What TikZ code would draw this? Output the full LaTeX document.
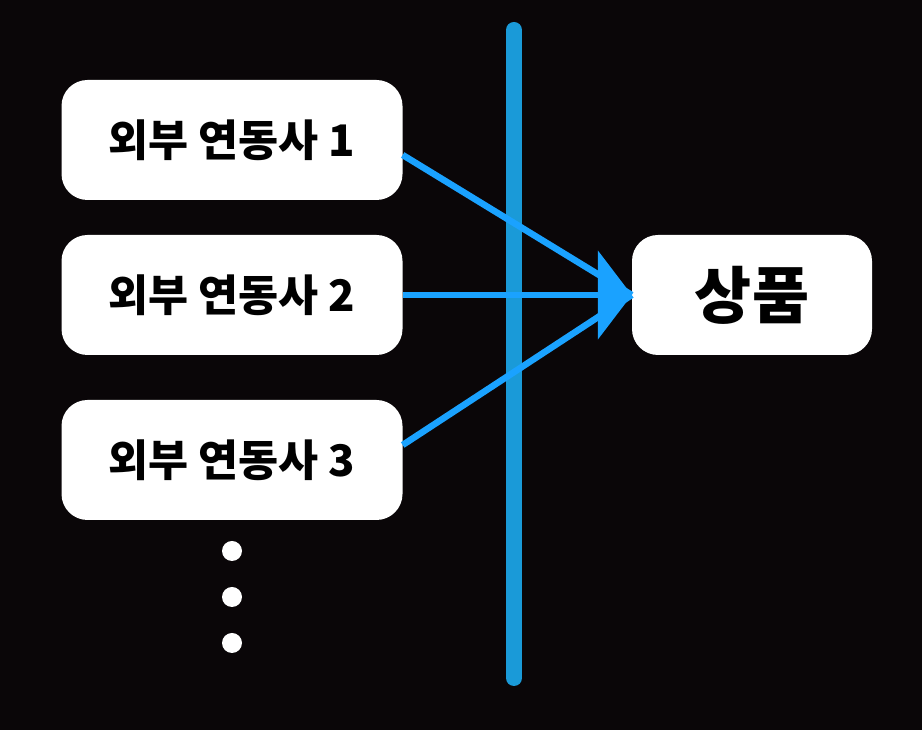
\documentclass[tikz,border=0pt]{standalone}
\usepackage{fontspec}
\setmainfont{Noto Sans CJK KR}
\usetikzlibrary{arrows.meta}
\definecolor{bg}{HTML}{0A0608}
\definecolor{wallblue}{HTML}{1A9AD8}
\definecolor{arrblue}{HTML}{1AA2FF}
\tikzset{
  box/.style={fill=white, rounded corners=26pt, minimum height=120pt, inner sep=0pt, text=black, font=\bfseries\fontsize{43.5}{44}\selectfont},
  leftbox/.style={box, minimum width=341pt},
  targetbox/.style={box, minimum width=240pt, font=\bfseries\fontsize{62}{62}\selectfont},
  link/.style={draw=arrblue, line width=6.5pt},
  dot/.style={circle, fill=white, minimum size=20pt, inner sep=0pt},
}
\begin{document}
\begin{tikzpicture}[x=1pt,y=1pt]
\fill[bg] (0,0) rectangle (922,730);
\useasboundingbox (0,0) rectangle (922,730);
\node[leftbox] (b1) at (232,590) {외부 연동사 1};
\node[leftbox] (b2) at (232,435) {외부 연동사 2};
\node[leftbox] (b3) at (232,270) {외부 연동사 3};
\node[targetbox] (p) at (752,435) {상품};
\node[dot] (d1) at (232,179) {};
\node[dot] (d2) at (232,133) {};
\node[dot] (d3) at (232,87) {};
\coordinate (wt) at (514,700);
\coordinate (wb) at (514,52);
\draw[wallblue, line width=16pt, line cap=round] (wt) -- (wb);
\draw[link] ([yshift=-15pt]b1.east) -- (p.west);
\draw[link] ([yshift=15pt]b3.east) -- (p.west);
\draw[link, -{Triangle[length=34pt,width=88pt]}] (b2.east) -- (p.west);
\end{tikzpicture}
\end{document}
